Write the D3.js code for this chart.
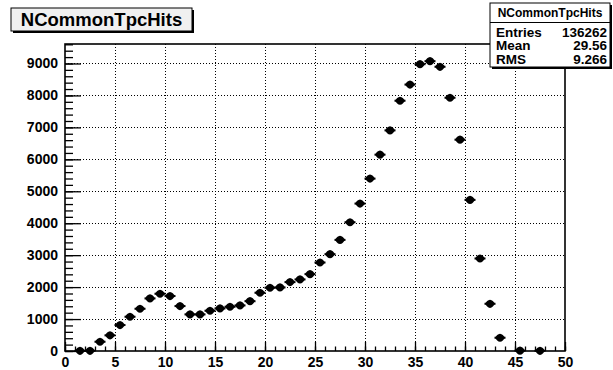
<!DOCTYPE html>
<html>
<head>
<meta charset="utf-8">
<script src="https://cdn.jsdelivr.net/npm/d3@7"></script>
<style>
  html, body { margin: 0; padding: 0; background: #fff; }
  svg { display: block; }
  text { font-family: "Liberation Sans", Arial, Helvetica, sans-serif; font-weight: bold; fill: #000; }
</style>
</head>
<body>
<svg id="chart" width="613" height="370"></svg>
<script>
// Histogram NCommonTpcHits: bin centres and contents (empty bins are omitted)
const binCenters = [1.5, 2.5, 3.5, 4.5, 5.5, 6.5, 7.5, 8.5, 9.5, 10.5,
  11.5, 12.5, 13.5, 14.5, 15.5, 16.5, 17.5, 18.5, 19.5, 20.5,
  21.5, 22.5, 23.5, 24.5, 25.5, 26.5, 27.5, 28.5, 29.5, 30.5,
  31.5, 32.5, 33.5, 34.5, 35.5, 36.5, 37.5, 38.5, 39.5, 40.5,
  41.5, 42.5, 43.5, 45.5, 47.5];
const binCounts = [5, 5, 290, 490, 812, 1072, 1322, 1646, 1792, 1720,
  1406, 1146, 1146, 1260, 1333, 1385, 1427, 1560, 1823, 1980,
  1990, 2156, 2240, 2406, 2770, 3030, 3478, 4030, 4615, 5396,
  6146, 6906, 7834, 8340, 8978, 9072, 8897, 7928, 6615, 4730,
  2896, 1478, 415, 10, 5];

const xMajorTicks = [0, 5, 10, 15, 20, 25, 30, 35, 40, 45, 50];
const yMajorTicks = [0, 1000, 2000, 3000, 4000, 5000, 6000, 7000, 8000, 9000];

const histTitle = "NCommonTpcHits";
const statLabels = ["Entries", "Mean", "RMS"];
const statValues = ["136262", "29.56", "9.266"];

const svg = d3.select("#chart");
const frame = { left: 65, right: 565, top: 44, bottom: 351 };

const x = d3.scaleLinear().domain([0, 50]).range([frame.left, frame.right]);
const y = d3.scaleLinear().domain([0, 9610]).range([frame.bottom, frame.top]);

// grid
const grid = svg.append("g").attr("class", "grid")
  .attr("stroke", "#000").attr("stroke-width", 1).attr("stroke-dasharray", "1,2");
grid.selectAll("line.gx").data(xMajorTicks.filter(v => v > 0 && v < 50)).join("line")
  .attr("x1", d => Math.round(x(d)) + 0.5).attr("x2", d => Math.round(x(d)) + 0.5)
  .attr("y1", frame.top).attr("y2", frame.bottom);
grid.selectAll("line.gy").data(yMajorTicks.filter(v => v > 0)).join("line")
  .attr("y1", d => Math.round(y(d)) + 0.5).attr("y2", d => Math.round(y(d)) + 0.5)
  .attr("x1", frame.left).attr("x2", frame.right);

// y axis (ticks pointing into the frame)
const yMinor = d3.range(0, 9601, 200);
svg.append("g").attr("transform", `translate(${frame.left},0)`)
  .call(d3.axisLeft(y).tickValues(yMinor).tickSize(-8).tickFormat(""))
  .call(g => g.select(".domain").remove())
  .call(g => g.selectAll("line").attr("stroke-width", 1.3));
svg.append("g").attr("transform", `translate(${frame.left},0)`)
  .call(d3.axisLeft(y).tickValues(yMajorTicks).tickSize(-16).tickPadding(7).tickFormat(d3.format("d")))
  .call(g => g.select(".domain").remove())
  .call(g => g.selectAll("line").attr("stroke-width", 1.3))
  .call(g => g.selectAll("text").attr("font-size", 14).attr("font-family", null));

// x axis
const xMinor = d3.range(0, 51, 1);
svg.append("g").attr("transform", `translate(0,${frame.bottom})`)
  .call(d3.axisBottom(x).tickValues(xMinor).tickSize(-4.5).tickFormat(""))
  .call(g => g.select(".domain").remove())
  .call(g => g.selectAll("line").attr("stroke-width", 1.3));
svg.append("g").attr("transform", `translate(0,${frame.bottom})`)
  .call(d3.axisBottom(x).tickValues(xMajorTicks).tickSize(-9).tickPadding(6).tickFormat(d3.format("d")))
  .call(g => g.select(".domain").remove())
  .call(g => g.selectAll("line").attr("stroke-width", 1.3))
  .call(g => g.selectAll("text").attr("font-size", 14).attr("font-family", null));

// frame
svg.append("rect")
  .attr("x", frame.left).attr("y", frame.top)
  .attr("width", frame.right - frame.left).attr("height", frame.bottom - frame.top)
  .attr("fill", "none").attr("stroke", "#000").attr("stroke-width", 1.6);

// data points with error bars
const data = binCenters.map((c, i) => ({ c, n: binCounts[i] }));
const pts = svg.append("g").attr("class", "points");
const pt = pts.selectAll("g").data(data).join("g");
pt.append("line")
  .attr("x1", d => x(d.c - 0.5) - 0.5).attr("x2", d => x(d.c + 0.5) + 0.5)
  .attr("y1", d => y(d.n)).attr("y2", d => y(d.n))
  .attr("stroke", "#000").attr("stroke-width", 2);
pt.append("line")
  .attr("x1", d => x(d.c)).attr("x2", d => x(d.c))
  .attr("y1", d => y(d.n + Math.sqrt(d.n))).attr("y2", d => y(Math.max(0, d.n - Math.sqrt(d.n))))
  .attr("stroke", "#000").attr("stroke-width", 1.6);
pt.append("path")
  .attr("transform", d => `translate(${x(d.c)},${y(d.n)})`)
  .attr("d", "M-4.8,0 Q-3.2,-3.6 0,-4.1 Q3.2,-3.6 4.8,0 Q3.2,3.6 0,4.1 Q-3.2,3.6 -4.8,0 Z")
  .attr("fill", "#000");

// title box
const tb = { x: 11, y: 8, w: 181, h: 23 };
svg.append("rect").attr("x", tb.x + 2).attr("y", tb.y + 2).attr("width", tb.w).attr("height", tb.h).attr("fill", "#000");
svg.append("rect").attr("x", tb.x).attr("y", tb.y).attr("width", tb.w).attr("height", tb.h)
  .attr("fill", "#f0f0f0").attr("stroke", "#000").attr("stroke-width", 1);
svg.append("text").attr("x", tb.x + tb.w / 2).attr("y", tb.y + tb.h / 2 + 6.5)
  .attr("text-anchor", "middle").attr("font-size", 18.5).text(histTitle);

// statistics box
const sb = { x: 490, y: 3, w: 120, h: 64 };
svg.append("rect").attr("x", sb.x + 2).attr("y", sb.y + 2).attr("width", sb.w).attr("height", sb.h).attr("fill", "#000");
svg.append("rect").attr("x", sb.x).attr("y", sb.y).attr("width", sb.w).attr("height", sb.h)
  .attr("fill", "#fff").attr("stroke", "#000").attr("stroke-width", 1);
svg.append("line").attr("x1", sb.x).attr("x2", sb.x + sb.w).attr("y1", 22.5).attr("y2", 22.5)
  .attr("stroke", "#000").attr("stroke-width", 1);
svg.append("text").attr("x", sb.x + sb.w / 2).attr("y", 17)
  .attr("text-anchor", "middle").attr("font-size", 12).text(histTitle);
const rowY = [37, 50.5, 64];
statLabels.forEach((lab, i) => {
  svg.append("text").attr("x", sb.x + 6).attr("y", rowY[i] - 0.5).attr("font-size", 13.5).text(lab);
  svg.append("text").attr("x", sb.x + sb.w - 3).attr("y", rowY[i] - 0.5)
    .attr("text-anchor", "end").attr("font-size", 13.5).text(statValues[i]);
});
</script>
</body>
</html>
